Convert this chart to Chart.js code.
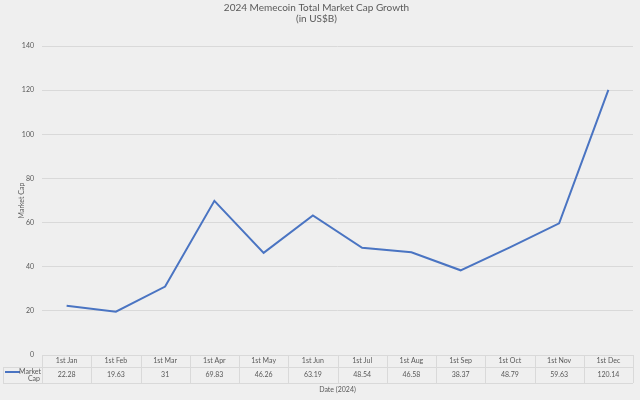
<!DOCTYPE html>
<html><head><meta charset="utf-8">
<script src="https://cdn.jsdelivr.net/npm/chart.js@4"></script>
<style>html,body{margin:0;padding:0;background:#efefef;}#wrap{width:640px;height:400px;}</style>
</head><body><div id="wrap"><canvas id="c"></canvas></div>
<script>
const chartTitle = ['2024 Memecoin Total Market Cap Growth', '(in US$B)'];
const categories = ['1st Jan','1st Feb','1st Mar','1st Apr','1st May','1st Jun','1st Jul','1st Aug','1st Sep','1st Oct','1st Nov','1st Dec'];
const seriesName = 'Market Cap';
const marketCap = [22.28, 19.63, 31, 69.83, 46.26, 63.19, 48.54, 46.58, 38.37, 48.79, 59.63, 120.14];
const valueLabels = ['22.28','19.63','31','69.83','46.26','63.19','48.54','46.58','38.37','48.79','59.63','120.14'];
const yMin = 0, yMax = 140, yStep = 20;
const xTitle = 'Date (2024)';
const yTitle = 'Market Cap';

const FONT = 'Lato, "Liberation Sans", sans-serif';
const TXT = '#595959';
const GRID = '#d9d9d9';

const dataTable = {
  id: 'dataTable',
  afterDraw(chart) {
    const ctx = chart.ctx, xs = chart.scales.x, ca = chart.chartArea;
    const n = categories.length;
    const half = (xs.getPixelForValue(1) - xs.getPixelForValue(0)) / 2;
    const top = Math.round(ca.bottom), mid = top + 12, bot = top + 28;
    const left0 = xs.getPixelForValue(0) - half;
    const right = xs.getPixelForValue(n - 1) + half;
    ctx.save();
    ctx.strokeStyle = GRID; ctx.lineWidth = 1;
    ctx.beginPath();
    ctx.moveTo(left0, top + 0.5); ctx.lineTo(right, top + 0.5);
    ctx.moveTo(3, mid + 0.5); ctx.lineTo(right, mid + 0.5);
    ctx.moveTo(3, bot + 0.5); ctx.lineTo(right, bot + 0.5);
    ctx.moveTo(3.5, mid); ctx.lineTo(3.5, bot);
    for (let i = 0; i <= n; i++) {
      const x = Math.round(xs.getPixelForValue(i) - half) + 0.5;
      ctx.moveTo(x, top); ctx.lineTo(x, bot);
    }
    ctx.stroke();
    ctx.fillStyle = TXT; ctx.font = '7px ' + FONT;
    ctx.textAlign = 'center'; ctx.textBaseline = 'middle';
    for (let i = 0; i < n; i++) {
      ctx.fillText(valueLabels[i], xs.getPixelForValue(i), (mid + bot) / 2);
    }
    const ds = chart.data.datasets[0];
    ctx.strokeStyle = ds.borderColor; ctx.lineWidth = 2;
    ctx.beginPath(); ctx.moveTo(5, mid + 5); ctx.lineTo(20, mid + 5); ctx.stroke();
    ctx.textAlign = 'right';
    const words = ds.label.split(' ');
    ctx.fillText(words[0], left0 - 1, mid + 5);
    ctx.fillText(words[1], left0 - 2, mid + 12);
    ctx.restore();
  }
};

new Chart(document.getElementById('c'), {
  type: 'line',
  data: {
    labels: categories,
    datasets: [{
      label: seriesName,
      data: marketCap,
      borderColor: '#4a74c2',
      borderWidth: 2,
      pointRadius: 0,
      tension: 0,
      fill: false
    }]
  },
  options: {
    responsive: true,
    maintainAspectRatio: false,
    animation: false,
    layout: { padding: { left: 0, right: 7, top: 0, bottom: 0 } },
    plugins: {
      legend: { display: false },
      tooltip: { enabled: false },
      title: {
        display: true, text: chartTitle, color: TXT,
        font: { family: FONT, size: 10, weight: 'normal', lineHeight: 1.15 },
        padding: { top: 2, bottom: 21 }
      }
    },
    scales: {
      x: {
        offset: true,
        grid: { display: false, drawTicks: false },
        border: { display: false },
        ticks: { color: TXT, font: { family: FONT, size: 7 }, padding: 2, maxRotation: 0, autoSkip: false },
        title: { display: true, text: xTitle, color: TXT, font: { family: FONT, size: 7 }, padding: { top: 0, bottom: 6 } },
        afterFit(s) { s.height = 45; }
      },
      y: {
        min: yMin, max: yMax,
        grid: { color: GRID, drawTicks: false },
        border: { display: false },
        ticks: { stepSize: yStep, color: TXT, font: { family: FONT, size: 7 }, padding: 8 },
        title: { display: true, text: yTitle, color: TXT, font: { family: FONT, size: 7 }, padding: { top: 18, bottom: 0 } },
        afterFit(s) { s.width = 42; }
      }
    }
  },
  plugins: [dataTable]
});
</script>
</body></html>
